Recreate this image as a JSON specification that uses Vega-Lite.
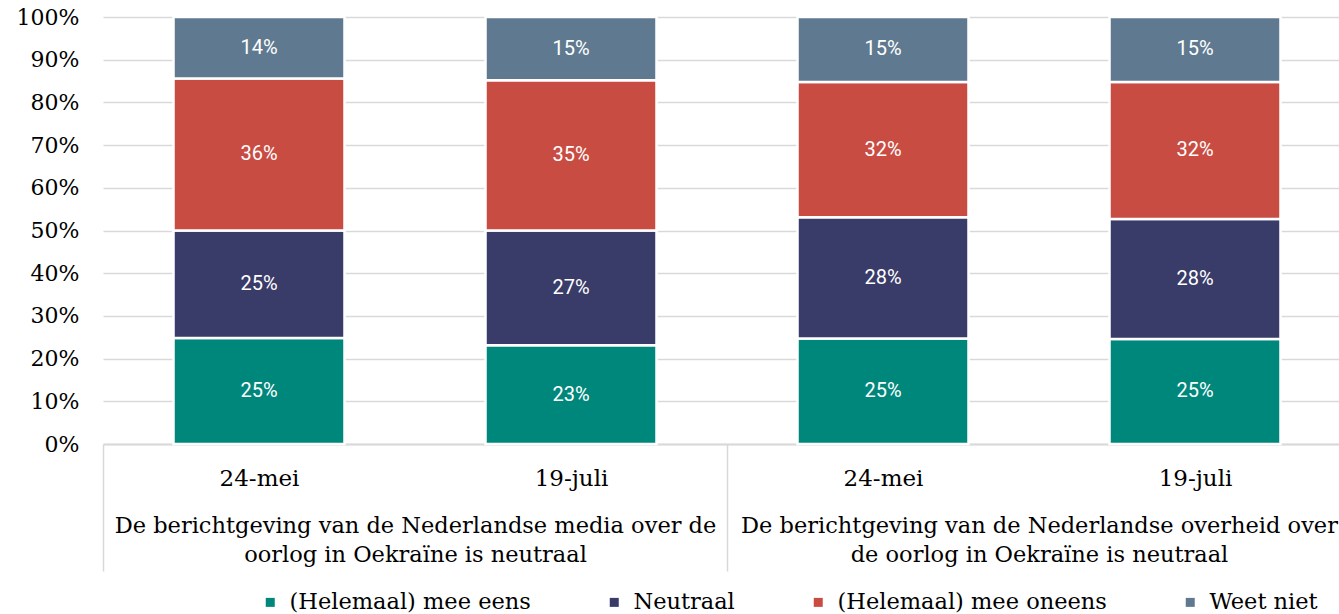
{
  "$schema": "https://vega.github.io/schema/vega-lite/v6.json",
  "autosize": {"type": "none"},
  "padding": {"left": 103, "top": 17, "right": -12, "bottom": 170},
  "width": 1248,
  "height": 427,
  "background": "white",
  "config": {"view": {"stroke": null}},
  "data": {
    "values": [
      {"group": "De berichtgeving van de Nederlandse media over de|oorlog in Oekraïne is neutraal", "date": "24-mei", "bar": "A 24-mei", "cat": "(Helemaal) mee eens", "k": 1, "v": 0.248},
      {"group": "De berichtgeving van de Nederlandse media over de|oorlog in Oekraïne is neutraal", "date": "24-mei", "bar": "A 24-mei", "cat": "Neutraal", "k": 2, "v": 0.252},
      {"group": "De berichtgeving van de Nederlandse media over de|oorlog in Oekraïne is neutraal", "date": "24-mei", "bar": "A 24-mei", "cat": "(Helemaal) mee oneens", "k": 3, "v": 0.356},
      {"group": "De berichtgeving van de Nederlandse media over de|oorlog in Oekraïne is neutraal", "date": "24-mei", "bar": "A 24-mei", "cat": "Weet niet", "k": 4, "v": 0.144},
      {"group": "De berichtgeving van de Nederlandse media over de|oorlog in Oekraïne is neutraal", "date": "19-juli", "bar": "A 19-juli", "cat": "(Helemaal) mee eens", "k": 1, "v": 0.231},
      {"group": "De berichtgeving van de Nederlandse media over de|oorlog in Oekraïne is neutraal", "date": "19-juli", "bar": "A 19-juli", "cat": "Neutraal", "k": 2, "v": 0.269},
      {"group": "De berichtgeving van de Nederlandse media over de|oorlog in Oekraïne is neutraal", "date": "19-juli", "bar": "A 19-juli", "cat": "(Helemaal) mee oneens", "k": 3, "v": 0.352},
      {"group": "De berichtgeving van de Nederlandse media over de|oorlog in Oekraïne is neutraal", "date": "19-juli", "bar": "A 19-juli", "cat": "Weet niet", "k": 4, "v": 0.148},
      {"group": "De berichtgeving van de Nederlandse overheid over|de oorlog in Oekraïne is neutraal", "date": "24-mei", "bar": "B 24-mei", "cat": "(Helemaal) mee eens", "k": 1, "v": 0.247},
      {"group": "De berichtgeving van de Nederlandse overheid over|de oorlog in Oekraïne is neutraal", "date": "24-mei", "bar": "B 24-mei", "cat": "Neutraal", "k": 2, "v": 0.284},
      {"group": "De berichtgeving van de Nederlandse overheid over|de oorlog in Oekraïne is neutraal", "date": "24-mei", "bar": "B 24-mei", "cat": "(Helemaal) mee oneens", "k": 3, "v": 0.317},
      {"group": "De berichtgeving van de Nederlandse overheid over|de oorlog in Oekraïne is neutraal", "date": "24-mei", "bar": "B 24-mei", "cat": "Weet niet", "k": 4, "v": 0.152},
      {"group": "De berichtgeving van de Nederlandse overheid over|de oorlog in Oekraïne is neutraal", "date": "19-juli", "bar": "B 19-juli", "cat": "(Helemaal) mee eens", "k": 1, "v": 0.246},
      {"group": "De berichtgeving van de Nederlandse overheid over|de oorlog in Oekraïne is neutraal", "date": "19-juli", "bar": "B 19-juli", "cat": "Neutraal", "k": 2, "v": 0.281},
      {"group": "De berichtgeving van de Nederlandse overheid over|de oorlog in Oekraïne is neutraal", "date": "19-juli", "bar": "B 19-juli", "cat": "(Helemaal) mee oneens", "k": 3, "v": 0.321},
      {"group": "De berichtgeving van de Nederlandse overheid over|de oorlog in Oekraïne is neutraal", "date": "19-juli", "bar": "B 19-juli", "cat": "Weet niet", "k": 4, "v": 0.152}
    ]
  },
  "layer": [
    {
      "mark": {"type": "bar", "stroke": "white", "strokeWidth": 2.5},
      "encoding": {
        "x": {
          "field": "group", "type": "nominal",
          "sort": ["De berichtgeving van de Nederlandse media over de|oorlog in Oekraïne is neutraal", "De berichtgeving van de Nederlandse overheid over|de oorlog in Oekraïne is neutraal"],
          "scale": {"paddingInner": 0, "paddingOuter": 0},
          "axis": {
            "orient": "bottom", "title": null, "domain": false,
            "ticks": true, "tickBand": "extent", "tickSize": 127, "tickColor": "#d9d9d9", "tickWidth": 1.5,
            "labelExpr": "split(datum.label, '|')", "labelAngle": 0, "labelAlign": "center", "labelBaseline": "top",
            "labelPadding": -57, "labelLimit": 0, "labelLineHeight": 29,
            "labelFont": "DejaVu Serif", "labelFontSize": 22.5, "labelColor": "#000000", "grid": false
          }
        },
        "xOffset": {
          "field": "date", "type": "nominal", "sort": ["24-mei", "19-juli"],
          "scale": {"paddingInner": 0.452, "paddingOuter": 0.226}
        },
        "y": {
          "field": "v", "type": "quantitative", "stack": "zero",
          "scale": {"domain": [0, 1], "nice": false},
          "axis": {
            "orient": "left", "title": null, "format": ".0%", "values": [0, 0.1, 0.2, 0.3, 0.4, 0.5, 0.6, 0.7, 0.8, 0.9, 1],
            "labelOverlap": false, "domain": false, "ticks": false, "grid": true, "gridColor": "#d9d9d9", "gridWidth": 1.5,
            "labelFont": "DejaVu Serif", "labelFontSize": 22, "labelColor": "#000000", "labelPadding": 24
          }
        },
        "color": {
          "field": "cat", "type": "nominal",
          "scale": {
            "domain": ["(Helemaal) mee eens", "Neutraal", "(Helemaal) mee oneens", "Weet niet"],
            "range": ["#00877b", "#393b69", "#c94c43", "#5f7a90"]
          },
          "legend": {
            "orient": "none", "direction": "horizontal", "legendX": 156, "legendY": 574,
            "title": null, "symbolType": "square", "symbolSize": 81, "symbolStrokeWidth": 0,
            "labelFont": "DejaVu Serif", "labelFontSize": 22.5, "labelColor": "#000000",
            "labelOffset": 8, "columnPadding": 72, "padding": 0, "labelLimit": 0
          }
        },
        "order": {"field": "k", "type": "quantitative"}
      }
    },
    {
      "mark": {"type": "text", "color": "white", "font": "Roboto", "fontSize": 20, "baseline": "middle", "align": "center"},
      "encoding": {
        "x": {
          "field": "bar", "type": "nominal",
          "sort": ["A 24-mei", "A 19-juli", "B 24-mei", "B 19-juli"],
          "scale": {"paddingInner": 0.452, "paddingOuter": 0.226},
          "axis": {
            "orient": "bottom", "title": null, "domain": true, "domainColor": "#d9d9d9", "domainWidth": 2,
            "ticks": false, "labelExpr": "split(datum.label, ' ')[1]", "labelAngle": 0,
            "labelPadding": 23, "labelFont": "DejaVu Serif", "labelFontSize": 23, "labelColor": "#000000", "grid": false
          }
        },
        "y": {
          "field": "v", "type": "quantitative", "stack": "zero", "bandPosition": 0.5,
          "axis": null
        },
        "detail": {"field": "cat", "type": "nominal"},
        "order": {"field": "k", "type": "quantitative"},
        "text": {"field": "v", "type": "quantitative", "format": ".0%"}
      }
    }
  ],
  "resolve": {"scale": {"x": "independent"}, "axis": {"x": "independent", "y": "independent"}}
}
